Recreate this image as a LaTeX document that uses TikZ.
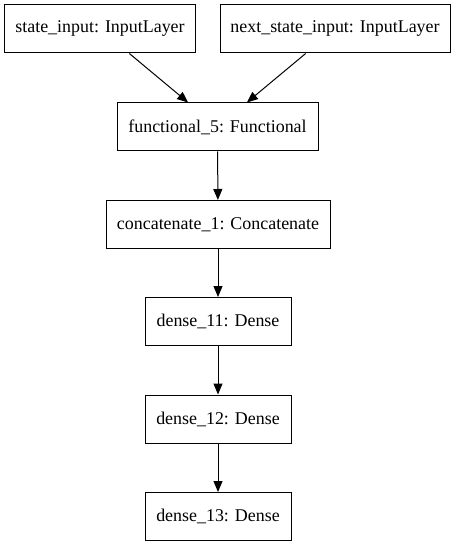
\documentclass[tikz,border=0pt]{standalone}
\usepackage{fontspec}
\setmainfont{Liberation Serif}
\usetikzlibrary{arrows.meta}

\begin{document}
\begin{tikzpicture}[x=1bp,y=-1bp]
\tikzstyle{every node}+=[inner sep=0pt]
\tikzstyle{layer}=[draw=black,line width=1bp,minimum height=48bp,font=\fontsize{18}{21}\selectfont]
\tikzstyle{flow}=[line width=1bp,-{Triangle[length=11bp,width=9bp]}]
\useasboundingbox (0,0) rectangle (456,547);
\node [layer,minimum width=190bp] (si) at (100,29) {state\_input: InputLayer};
\node [layer,minimum width=230bp] (nsi) at (335,29) {next\_state\_input: InputLayer};
\node [layer,minimum width=201bp] (fn) at (217.5,127) {functional\_5: Functional};
\node [layer,minimum width=224bp] (cc) at (218,224.5) {concatenate\_1: Concatenate};
\node [layer,minimum width=146bp] (d11) at (218,321.5) {dense\_11: Dense};
\node [layer,minimum width=146bp] (d12) at (218,419) {dense\_12: Dense};
\node [layer,minimum width=146bp] (d13) at (218,516.5) {dense\_13: Dense};
\draw [flow] (si) -- (fn);
\draw [flow] (nsi) -- (fn);
\draw [flow] (fn) -- (cc);
\draw [flow] (cc) -- (d11);
\draw [flow] (d11) -- (d12);
\draw [flow] (d12) -- (d13);
\end{tikzpicture}
\end{document}
